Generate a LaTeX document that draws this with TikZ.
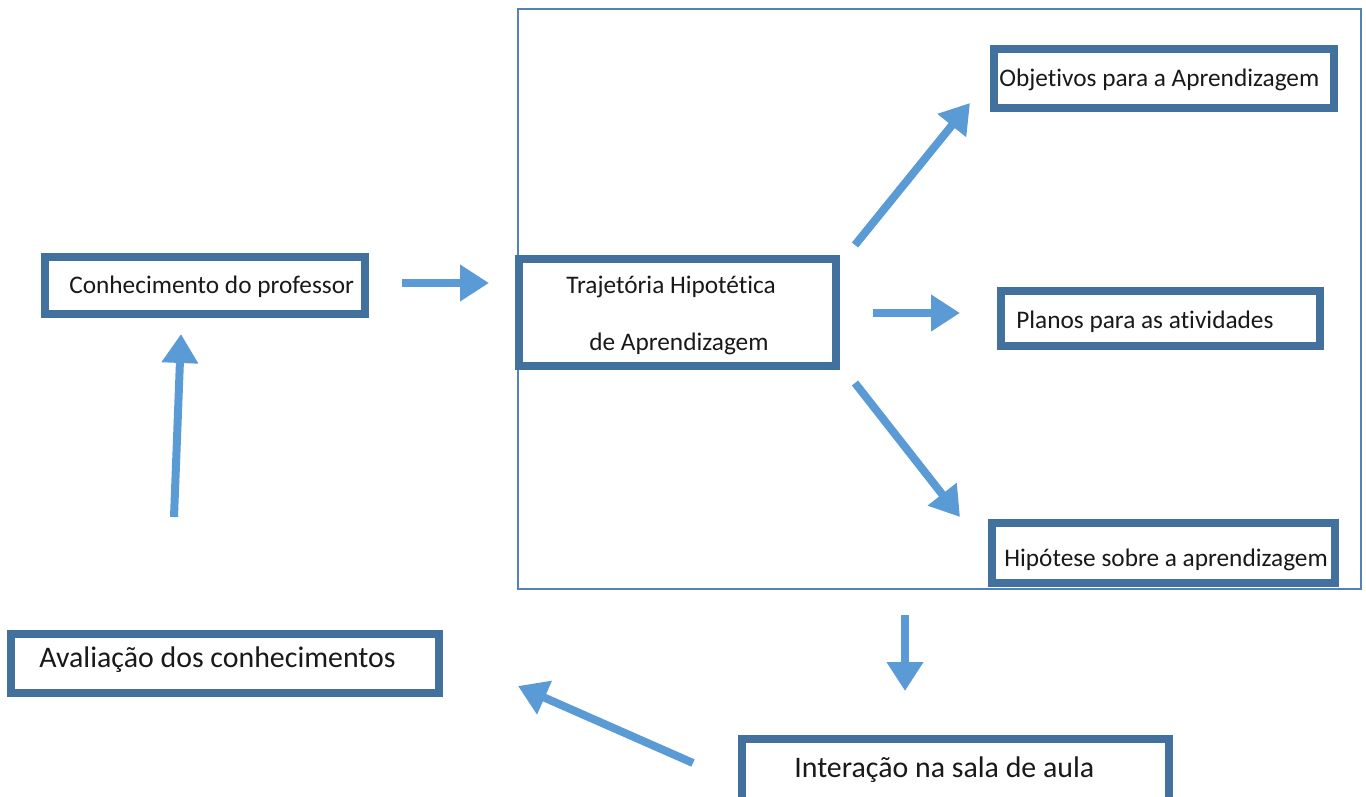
\documentclass[tikz,border=0pt]{standalone}
\usepackage{fontspec}
\setmainfont{Carlito}[Ligatures=NoCommon]
\usetikzlibrary{arrows.meta,fit}
\definecolor{boxblue}{RGB}{65,113,156}
\definecolor{arrblue}{RGB}{91,155,213}
\definecolor{frameblue}{RGB}{84,130,180}
\tikzset{
  box/.style={draw=boxblue, line width=0.16cm, inner sep=0pt, fill=white},
  frame/.style={draw=frameblue, line width=0.04cm},
  txt/.style={inner sep=0pt, anchor=west, text=black!90, font=\fontsize{14.4}{17}\selectfont},
  bigtxt/.style={txt, font=\fontsize{17}{20}\selectfont},
  arr/.style={draw=arrblue, line width=0.16cm, -{Triangle[length=0.58cm,width=0.7cm]}, arrblue},
}
\begin{document}
\begin{tikzpicture}[x=0.02cm,y=-0.02cm]
\useasboundingbox (0,0) rectangle (1366,797);
\begin{scope}
\clip (0,0) rectangle (1366,797);
% outer frame
\draw[frame] (518,9) rectangle (1361,589);
% boxes
\node[box, fit={(45,257) (365,314)}] (prof) {};
\node[box, fit={(519,259) (836,366)}] (traj) {};
\node[box, fit={(994,49) (1334,108)}] (obj) {};
\node[box, fit={(1001,291) (1320,346)}] (plan) {};
\node[box, fit={(992,523) (1335,583)}] (hip) {};
\node[box, fit={(11,634) (439,693)}] (aval) {};
\node[box, fit={(742,739) (1169,808)}] (inter) {};
\end{scope}
% texts
\node[txt] (profT) at (69,287) {Conhecimento do professor};
\node[txt] (trajT1) at (566,287) {Trajetória Hipotética};
\node[txt] (trajT2) at (589,344) {de Aprendizagem};
\node[txt] (objT) at (999,80) {Objetivos para a Aprendizagem};
\node[txt] (planT) at (1016,322) {Planos para as atividades};
\node[txt] (hipT) at (1004,560) {Hipótese sobre a aprendizagem};
\node[bigtxt] (avalT) at (39,660) {Avaliação dos conhecimentos};
\node[bigtxt] (interT) at (794,770) {Interação na sala de aula};
% arrow endpoints
\coordinate (p1) at (402,283); \coordinate (q1) at (489,283);
\coordinate (p2) at (174,517); \coordinate (q2) at (181,334);
\coordinate (p3) at (855,245); \coordinate (q3) at (970,103);
\coordinate (p4) at (873,313); \coordinate (q4) at (960,313);
\coordinate (p5) at (855,383); \coordinate (q5) at (960,517);
\coordinate (p6) at (905,615); \coordinate (q6) at (905,691);
\coordinate (p7) at (693,763); \coordinate (q7) at (518,686);
\draw[arr] (p1) -- (q1);
\draw[arr] (p2) -- (q2);
\draw[arr] (p3) -- (q3);
\draw[arr] (p4) -- (q4);
\draw[arr] (p5) -- (q5);
\draw[arr] (p6) -- (q6);
\draw[arr] (p7) -- (q7);
\end{tikzpicture}
\end{document}
